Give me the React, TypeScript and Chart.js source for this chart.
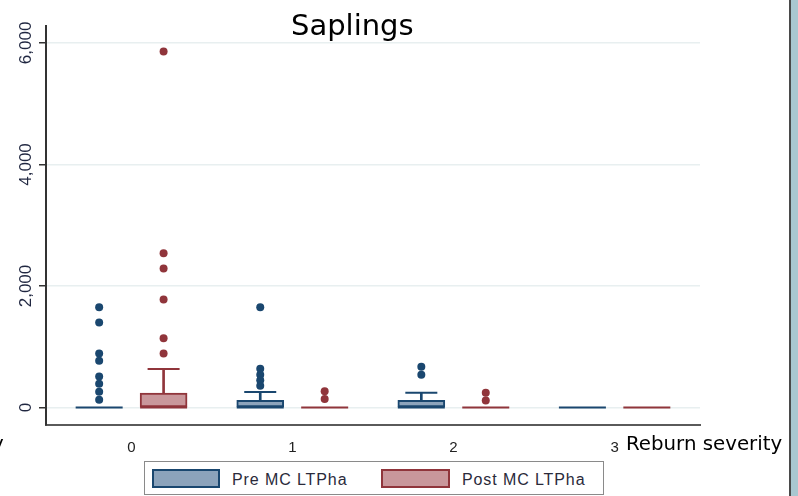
import React, { useEffect, useRef } from "react";
import { Chart, registerables } from "chart.js";

Chart.register(...registerables);

// ---------- data ----------
const categories = [0, 1, 2, 3];
const categoryLabels = ["0", "1", "2", "3"];
const seriesNames = ["Pre MC LTPha", "Post MC LTPha"];
const yTicks = [0, 2000, 4000, 6000];
const titleText = "Saplings";
const xAxisTitle = "Reburn severity";

const preQ1 = [0, 0, 0, 0];
const preMedian = [0, 0, 0, 0];
const preQ3 = [0, 120, 120, 0];
const preUpper = [0, 255, 245, 0];
const preOutliers = [
  [1650, 1400, 890, 770, 510, 390, 260, 130],
  [1650, 640, 540, 450, 360],
  [670, 540],
  [],
];

const postQ1 = [0, 0, 0, 0];
const postMedian = [0, 0, 0, 0];
const postQ3 = [240, 0, 0, 0];
const postUpper = [633, 0, 0, 0];
const postOutliers = [
  [5860, 2540, 2290, 1780, 1140, 890],
  [270, 140],
  [245, 115],
  [],
];

// ---------- style ----------
const PRE_LINE = "#1a476f";
const PRE_FILL = "#8ca3bb";
const POST_LINE = "#90353b";
const POST_FILL = "#c9979b";
const GROUP_OFFSET = 0.2;
const BOX_WIDTH = 47;
const FONT = '"Liberation Sans", Arial, sans-serif';

function seriesDatasets(
  name: string,
  q1: number[],
  med: number[],
  q3: number[],
  upper: number[],
  outl: number[][],
  offset: number,
  line: string,
  fill: string
): any[] {
  const xs = categories.map((c) => c + offset);
  return [
    {
      type: "bar",
      label: name,
      data: xs.map((x, i) => ({ x, y: [q1[i], q3[i]] })),
      backgroundColor: fill,
      borderColor: line,
      borderWidth: 2,
      borderSkipped: false,
      barThickness: BOX_WIDTH,
      grouped: false,
      order: 3,
    },
    {
      type: "bar",
      label: name + " whisker",
      data: xs.map((x, i) => ({ x, y: [q3[i], upper[i]] })),
      backgroundColor: line,
      borderWidth: 0,
      barThickness: 2,
      grouped: false,
      order: 4,
    },
    {
      type: "scatter",
      label: name + " median",
      data: xs.map((x, i) => ({ x, y: med[i] })),
      pointStyle: "line",
      pointRadius: BOX_WIDTH / 2,
      pointBorderColor: line,
      pointBorderWidth: 2,
      pointBackgroundColor: line,
      order: 1,
    },
    {
      type: "scatter",
      label: name + " cap",
      data: xs.flatMap((x, i) => (upper[i] > q3[i] ? [{ x, y: upper[i] }] : [])),
      pointStyle: "line",
      pointRadius: 16,
      pointBorderColor: line,
      pointBorderWidth: 2,
      order: 1,
    },
    {
      type: "scatter",
      label: name + " outliers",
      data: xs.flatMap((x, i) => outl[i].map((v) => ({ x, y: v }))),
      pointStyle: "circle",
      pointRadius: 4,
      pointBackgroundColor: line,
      pointBorderWidth: 0,
      order: 0,
    },
  ];
}

const yLabelPlugin = {
  id: "yRotatedLabels",
  afterDraw(chart: any) {
    const y = chart.scales.y;
    const ctx = chart.ctx;
    ctx.save();
    ctx.font = "17px " + FONT;
    ctx.fillStyle = "#1f2640";
    ctx.textAlign = "center";
    ctx.textBaseline = "alphabetic";
    yTicks.forEach((v) => {
      const p = y.getPixelForValue(v);
      ctx.save();
      ctx.translate(31, p);
      ctx.rotate(-Math.PI / 2);
      ctx.fillText(v.toLocaleString("en-US"), 0, 0);
      ctx.restore();
    });
    ctx.restore();
  },
};

export default function App() {
  const ref = useRef<HTMLCanvasElement | null>(null);

  useEffect(() => {
    if (!ref.current) return;
    const chart = new Chart(ref.current, {
      type: "scatter",
      data: {
        datasets: [
          ...seriesDatasets(seriesNames[0], preQ1, preMedian, preQ3, preUpper, preOutliers, -GROUP_OFFSET, PRE_LINE, PRE_FILL),
          ...seriesDatasets(seriesNames[1], postQ1, postMedian, postQ3, postUpper, postOutliers, GROUP_OFFSET, POST_LINE, POST_FILL),
        ] as any,
      },
      options: {
        animation: false,
        responsive: false,
        events: [],
        layout: { padding: { left: 0, right: 98, top: 13, bottom: 0 } },
        plugins: {
          legend: { display: false },
          tooltip: { enabled: false },
          title: { display: false },
        },
        scales: {
          x: {
            type: "linear",
            min: -0.53,
            max: 3.53,
            offset: false,
            grid: { display: false },
            border: { display: true, color: "#5a5a5a", width: 2 },
            afterBuildTicks: (s: any) => {
              s.ticks = categories.map((v) => ({ value: v }));
            },
            afterFit: (s: any) => {
              s.height = 71;
            },
            ticks: {
              callback: (v: any) => categoryLabels[categories.indexOf(Number(v))] ?? "",
              font: { family: FONT, size: 15 },
              color: "#222",
              padding: 6,
              maxRotation: 0,
              autoSkip: false,
            },
          },
          y: {
            type: "linear",
            min: -287,
            max: 6287,
            afterBuildTicks: (s: any) => {
              s.ticks = yTicks.map((v) => ({ value: v }));
            },
            afterFit: (s: any) => {
              s.width = 46;
            },
            grid: {
              color: "#e8eff0",
              lineWidth: 1.5,
              tickColor: "#333",
              tickWidth: 1.5,
              tickLength: 7,
              drawTicks: true,
            },
            border: { display: true, color: "#333", width: 2 },
            ticks: { display: false },
          },
        },
      },
      plugins: [yLabelPlugin],
    });
    return () => chart.destroy();
  }, []);

  const legendText: React.CSSProperties = {
    position: "absolute",
    font: "16px " + FONT,
    lineHeight: "16px",
    letterSpacing: "0.9px",
    color: "#2a2a3a",
    whiteSpace: "nowrap",
  };

  return (
    <div
      style={{
        position: "fixed",
        left: 0,
        top: 0,
        width: 798,
        height: 496,
        background: "#fff",
        overflow: "hidden",
      }}
    >
      <canvas
        ref={ref}
        width={798}
        height={496}
        style={{ position: "absolute", left: 0, top: 0, width: 798, height: 496 }}
      />
      <div
        style={{
          position: "absolute",
          left: 291,
          top: 11,
          font: '29px "DejaVu Sans", sans-serif',
          lineHeight: "29px",
          color: "#000",
          whiteSpace: "nowrap",
        }}
      >
        {titleText}
      </div>
      <div
        style={{
          position: "absolute",
          left: 626,
          top: 434,
          font: '19.8px "DejaVu Sans", sans-serif',
          lineHeight: "19.8px",
          color: "#000",
          whiteSpace: "nowrap",
        }}
      >
        {xAxisTitle}
      </div>
      <div
        style={{
          position: "absolute",
          left: -8,
          top: 434,
          font: '19.8px "DejaVu Sans", sans-serif',
          lineHeight: "19.8px",
          color: "#000",
        }}
      >
        y
      </div>
      {/* legend */}
      <div
        style={{
          position: "absolute",
          left: 144,
          top: 461,
          width: 458,
          height: 32,
          border: "1px solid #8a8a8a",
          background: "#fff",
        }}
      />
      <div
        style={{
          position: "absolute",
          left: 152,
          top: 469,
          width: 68,
          height: 19,
          boxSizing: "border-box",
          border: "2px solid " + PRE_LINE,
          background: PRE_FILL,
        }}
      />
      <div style={{ ...legendText, left: 232, top: 472 }}>{seriesNames[0]}</div>
      <div
        style={{
          position: "absolute",
          left: 381,
          top: 469,
          width: 69,
          height: 19,
          boxSizing: "border-box",
          border: "2px solid " + POST_LINE,
          background: POST_FILL,
        }}
      />
      <div style={{ ...legendText, left: 462, top: 472 }}>{seriesNames[1]}</div>
      {/* right frame */}
      <div style={{ position: "absolute", left: 789, top: 0, width: 2, height: 496, background: "#4a4a4a" }} />
      <div style={{ position: "absolute", left: 791, top: 0, width: 7, height: 496, background: "#a9c7d0" }} />
    </div>
  );
}
